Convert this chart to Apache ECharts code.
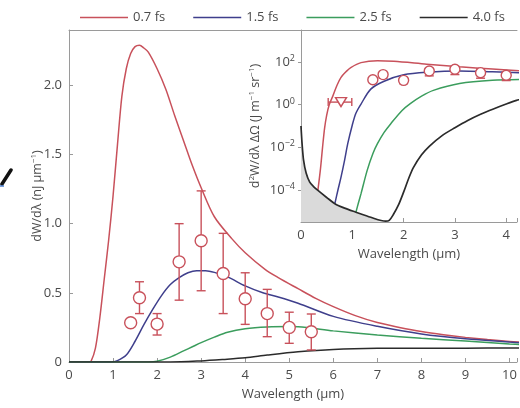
<!DOCTYPE html>
<html>
<head>
<meta charset="utf-8">
<script src="https://cdn.jsdelivr.net/npm/echarts@6/dist/echarts.min.js"></script>
<style>
html, body { margin: 0; padding: 0; background: #fff; }
#chart { width: 520px; height: 408px; }
</style>
</head>
<body>
<div id="chart"></div>
<script>
// pulse durations and colours
const pulses = ['0.7 fs', '1.5 fs', '2.5 fs', '4.0 fs'];
const colors = ['#c8515b', '#3f3f8c', '#3b9d5d', '#2b2b2b'];

// main panel: wavelength (um) vs dW/dλ (nJ/um)
const main07 = [[0,0],[0.45,0],[0.5,0.005],[0.6,0.1],[0.7,0.32],[0.8,0.6],[0.9,0.88],[1.0,1.2],[1.1,1.57],[1.2,1.92],[1.3,2.12],[1.4,2.23],[1.5,2.28],[1.6,2.29],[1.7,2.27],[1.8,2.24],[2.0,2.12],[2.2,1.97],[2.4,1.78],[2.6,1.6],[2.8,1.42],[3.0,1.26],[3.3,1.05],[3.7,0.89],[4.0,0.79],[4.45,0.67],[4.75,0.61],[5.2,0.53],[5.6,0.46],[6,0.4],[6.5,0.335],[7,0.285],[7.5,0.25],[8,0.22],[8.5,0.197],[9,0.178],[9.5,0.162],[10,0.149],[10.3,0.143]];
const main15 = [[0,0],[0.95,0],[1.1,0.01],[1.3,0.05],[1.5,0.15],[1.7,0.27],[1.9,0.38],[2.1,0.48],[2.3,0.56],[2.5,0.61],[2.7,0.645],[2.9,0.66],[3.1,0.66],[3.3,0.648],[3.6,0.615],[4.0,0.55],[4.4,0.5],[4.75,0.47],[5.2,0.425],[6,0.33],[7,0.258],[8,0.203],[9,0.168],[10,0.144],[10.3,0.138]];
const main25 = [[0,0],[1.8,0],[2.0,0.005],[2.3,0.035],[2.6,0.08],[2.8,0.11],[3.0,0.14],[3.3,0.18],[3.6,0.215],[4.0,0.24],[4.5,0.253],[5.0,0.256],[5.2,0.255],[6,0.225],[7,0.195],[8,0.171],[9,0.151],[10,0.13],[10.3,0.125]];
const main40 = [[0,0],[2.3,0],[3.0,0.008],[3.5,0.018],[4.0,0.03],[4.5,0.05],[5.2,0.074],[6,0.091],[7,0.099],[8,0.1],[9,0.1],[10,0.101],[10.3,0.101]];

// measured points (main panel)
const measX  = [1.4, 1.6, 2.0, 2.5, 3.0, 3.5, 4.0, 4.5, 5.0, 5.5];
const measY  = [0.284, 0.464, 0.274, 0.724, 0.876, 0.64, 0.457, 0.35, 0.25, 0.219];
const measLo = [null, 0.35, 0.195, 0.447, 0.515, 0.35, 0.272, 0.183, 0.135, 0.087];
const measHi = [null, 0.58, 0.35, 1.0, 1.237, 0.93, 0.645, 0.525, 0.36, 0.347];

// inset: wavelength (um) vs log10 of d2W/dλdΩ (J/m/sr)
const inset07 = [[0.33,-4.0],[0.38,-3.0],[0.42,-2.0],[0.46,-1.1],[0.5,-0.5],[0.55,0],[0.62,0.4],[0.7,0.9],[0.78,1.28],[0.88,1.55],[0.97,1.74],[1.17,1.97],[1.49,2.06],[1.81,2.03],[2.45,1.9],[3.09,1.78],[3.73,1.67],[4.4,1.56]];
const inset15 = [[0.66,-4.64],[0.72,-4.0],[0.78,-3.4],[0.85,-2.6],[0.91,-1.84],[1.0,-0.95],[1.07,-0.4],[1.17,0.03],[1.36,0.73],[1.62,1.1],[2.0,1.4],[2.45,1.52],[3.09,1.58],[3.73,1.54],[4.4,1.49]];
const inset25 = [[1.07,-5.04],[1.12,-4.6],[1.17,-4.17],[1.29,-3.08],[1.4,-2.3],[1.49,-1.83],[1.62,-1.3],[1.75,-0.89],[1.97,-0.27],[2.13,0.05],[2.35,0.4],[2.58,0.67],[3.09,0.99],[3.73,1.14],[4.4,1.18]];
const inset40 = [[0,-1.0],[0.02,-1.8],[0.05,-2.6],[0.1,-3.2],[0.17,-3.63],[0.25,-3.85],[0.33,-4.02],[0.5,-4.35],[0.66,-4.64],[0.85,-4.85],[1.07,-5.04],[1.36,-5.28],[1.65,-5.46],[1.72,-5.42],[1.8,-5.15],[1.9,-4.7],[2.0,-4.1],[2.1,-3.45],[2.19,-2.95],[2.35,-2.35],[2.5,-1.95],[2.75,-1.45],[3.0,-1.08],[3.25,-0.74],[3.5,-0.45],[3.75,-0.2],[4.0,0.03],[4.2,0.2],[4.4,0.33]];
const shadeEdge = [[0,-1.0],[0.02,-1.8],[0.05,-2.6],[0.1,-3.2],[0.17,-3.63],[0.25,-3.85],[0.33,-4.02],[0.5,-4.35],[0.66,-4.64],[0.85,-4.85],[1.07,-5.04],[1.36,-5.28],[1.65,-5.46]];

// measured points (inset), log10 values
const inMeasX  = [1.4, 1.6, 2.0, 2.5, 3.0, 3.5, 4.0];
const inMeasY  = [1.17, 1.41, 1.14, 1.58, 1.66, 1.5, 1.38];
const inMeasLo = [null, 1.24, 0.99, 1.35, 1.41, 1.24, 1.13];
const inMeasHi = [null, 1.46, 1.24, 1.70, 1.79, 1.67, 1.51];
const triX = 0.78, triY = 0.12, triXLo = 0.53, triXHi = 0.99;

const insetTicks = [-4, -2, 0, 2];
const font = '"Open Sans", "DejaVu Sans", sans-serif';
const textColor = '#4a4a4a';
const axisColor = '#9a9a9a';

function vErr(params, api) {
    const x = api.value(0);
    const a = api.coord([x, api.value(1)]);
    const b = api.coord([x, api.value(2)]);
    const w = 4.5;
    const style = {stroke: colors[0], lineWidth: 1.4, fill: null};
    return {type: 'group', children: [
        {type: 'line', shape: {x1: a[0], y1: a[1], x2: b[0], y2: b[1]}, style: style},
        {type: 'line', shape: {x1: a[0] - w, y1: a[1], x2: a[0] + w, y2: a[1]}, style: style},
        {type: 'line', shape: {x1: b[0] - w, y1: b[1], x2: b[0] + w, y2: b[1]}, style: style}
    ]};
}
function hErr(params, api) {
    const y = api.value(2);
    const a = api.coord([api.value(0), y]);
    const b = api.coord([api.value(1), y]);
    const h = 4;
    const style = {stroke: colors[0], lineWidth: 1.4, fill: null};
    return {type: 'group', children: [
        {type: 'line', shape: {x1: a[0], y1: a[1], x2: b[0], y2: b[1]}, style: style},
        {type: 'line', shape: {x1: a[0], y1: a[1] - h, x2: a[0], y2: a[1] + h}, style: style},
        {type: 'line', shape: {x1: b[0], y1: b[1] - h, x2: b[0], y2: b[1] + h}, style: style}
    ]};
}

const errData = (xs, lo, hi) => xs.map((x, i) => [x, lo[i], hi[i]]).filter(d => d[1] != null);

const lineSeries = (name, data, idx, xi, yi) => ({
    name: name, type: 'line', data: data, xAxisIndex: xi, yAxisIndex: yi,
    showSymbol: false, smooth: 0.3,
    lineStyle: {color: colors[idx], width: 1.5}, itemStyle: {color: colors[idx]}, z: 3
});

const supStyle = {fontSize: 8, fontFamily: font, color: textColor, padding: [0, 0, 6, 0]};

let chart;
function initChart() {
    chart = echarts.init(document.getElementById('chart'));
    chart.setOption({
        animation: false,
        backgroundColor: '#fff',
        textStyle: {fontFamily: font, color: textColor},
        legend: {
            data: pulses, left: 75, top: 6, itemWidth: 48, itemHeight: 1.5, itemGap: 28,
            icon: 'rect', textStyle: {fontSize: 13, color: textColor, fontFamily: font}
        },
        grid: [
            {left: 69, top: 30, right: 0, bottom: 46},
            {left: 301, top: 30, right: 0, bottom: 186}
        ],
        xAxis: [
            {
                type: 'value', gridIndex: 0, min: 0, max: 10.17, interval: 1,
                name: 'Wavelength (µm)', nameLocation: 'middle', nameGap: 26,
                nameTextStyle: {fontSize: 13, color: textColor},
                axisLine: {onZero: false, lineStyle: {color: axisColor}},
                axisTick: {inside: true, length: 4, lineStyle: {color: axisColor}},
                axisLabel: {fontSize: 13, color: textColor, margin: 7,
                    formatter: v => Number.isInteger(v) ? String(v) : ''},
                splitLine: {show: false}
            },
            {
                type: 'value', gridIndex: 0, position: 'top', min: 0, max: 10.17,
                axisLine: {onZero: false, lineStyle: {color: axisColor}},
                axisTick: {show: false}, axisLabel: {show: false}, splitLine: {show: false}
            },
            {
                type: 'value', gridIndex: 1, min: 0, max: 4.21, interval: 1,
                name: 'Wavelength (µm)', nameLocation: 'middle', nameGap: 26,
                nameTextStyle: {fontSize: 13, color: textColor},
                axisLine: {onZero: false, lineStyle: {color: axisColor}},
                axisTick: {inside: true, length: 4, lineStyle: {color: axisColor}},
                axisLabel: {fontSize: 13, color: textColor, margin: 7,
                    formatter: v => Number.isInteger(v) ? String(v) : ''},
                splitLine: {show: false}
            }
        ],
        yAxis: [
            {
                type: 'value', gridIndex: 0, min: 0, max: 2.4, interval: 0.5,
                name: 'dW/dλ (nJ µm{s|−1})', nameLocation: 'middle', nameGap: 25,
                nameMoveOverlap: false,
                nameTextStyle: {fontSize: 12.5, color: textColor, rich: {s: supStyle}},
                axisLine: {onZero: false, lineStyle: {color: axisColor}},
                axisTick: {inside: true, length: 4, lineStyle: {color: axisColor}},
                axisLabel: {fontSize: 13, color: textColor, margin: 7,
                    formatter: v => v === 0 ? '0' : (Math.abs(v * 2 - Math.round(v * 2)) < 1e-9 ? v.toFixed(1) : '')},
                splitLine: {show: false}
            },
            {
                type: 'value', gridIndex: 1, min: -5.5, max: 3.5,
                name: 'd{s|2}W/dλ ΔΩ (J m{s|−1} sr{s|−1})', nameLocation: 'middle', nameGap: 39,
                nameMoveOverlap: false,
                nameTextStyle: {fontSize: 12.5, color: textColor, rich: {s: supStyle}},
                axisLine: {onZero: false, lineStyle: {color: axisColor}},
                axisTick: {length: 3, customValues: insetTicks, lineStyle: {color: axisColor}},
                axisLabel: {customValues: insetTicks, margin: 6, color: textColor,
                    formatter: v => '{b|10}{s|' + String(v).replace('-', '−') + '}',
                    rich: {
                        b: {fontSize: 13, fontFamily: font, color: textColor},
                        s: {fontSize: 9, fontFamily: font, color: textColor, padding: [0, 0, 7, 0]}
                    }},
                splitLine: {show: false}
            }
        ],
        series: [
            lineSeries(pulses[0], main07, 0, 0, 0),
            lineSeries(pulses[1], main15, 1, 0, 0),
            lineSeries(pulses[2], main25, 2, 0, 0),
            lineSeries(pulses[3], main40, 3, 0, 0),
            {
                type: 'custom', xAxisIndex: 0, yAxisIndex: 0, renderItem: vErr,
                data: errData(measX, measLo, measHi), encode: {x: 0, y: [1, 2]}, z: 4
            },
            {
                type: 'scatter', xAxisIndex: 0, yAxisIndex: 0, symbol: 'circle', symbolSize: 12,
                data: measX.map((x, i) => [x, measY[i]]),
                itemStyle: {color: '#fff', borderColor: colors[0], borderWidth: 1.4, opacity: 1}, z: 5
            },
            // inset
            {
                type: 'line', xAxisIndex: 2, yAxisIndex: 1, data: shadeEdge, showSymbol: false,
                smooth: 0.3, lineStyle: {width: 0},
                areaStyle: {color: '#dadada', opacity: 1, origin: 'start'}, z: 2
            },
            lineSeries(pulses[0], inset07, 0, 2, 1),
            lineSeries(pulses[1], inset15, 1, 2, 1),
            lineSeries(pulses[2], inset25, 2, 2, 1),
            Object.assign(lineSeries(pulses[3], inset40, 3, 2, 1), {z: 4, lineStyle: {color: colors[3], width: 1.7}}),
            {
                type: 'custom', xAxisIndex: 2, yAxisIndex: 1, renderItem: vErr,
                data: errData(inMeasX, inMeasLo, inMeasHi), encode: {x: 0, y: [1, 2]}, z: 5
            },
            {
                type: 'scatter', xAxisIndex: 2, yAxisIndex: 1, symbol: 'circle', symbolSize: 10,
                data: inMeasX.map((x, i) => [x, inMeasY[i]]),
                itemStyle: {color: '#fff', borderColor: colors[0], borderWidth: 1.4, opacity: 1}, z: 6
            },
            {
                type: 'custom', xAxisIndex: 2, yAxisIndex: 1, renderItem: hErr,
                data: [[triXLo, triXHi, triY]], encode: {x: [0, 1], y: 2}, z: 5
            },
            {
                type: 'scatter', xAxisIndex: 2, yAxisIndex: 1, symbol: 'triangle', symbolRotate: 180,
                symbolSize: [11, 9], data: [[triX, triY]],
                itemStyle: {color: '#fff', borderColor: colors[0], borderWidth: 1.4, opacity: 1}, z: 6
            }
        ],
        graphic: [
            {type: 'line', shape: {x1: 2, y1: 184, x2: 11, y2: 170}, style: {stroke: '#111', lineWidth: 3.5, lineCap: 'round'}},
            {type: 'line', shape: {x1: 0, y1: 186, x2: 4, y2: 186}, style: {stroke: '#4a7fd0', lineWidth: 1.5}}
        ]
    });
}

document.addEventListener('DOMContentLoaded', function () {
    initChart();
});
</script>
</body>
</html>
